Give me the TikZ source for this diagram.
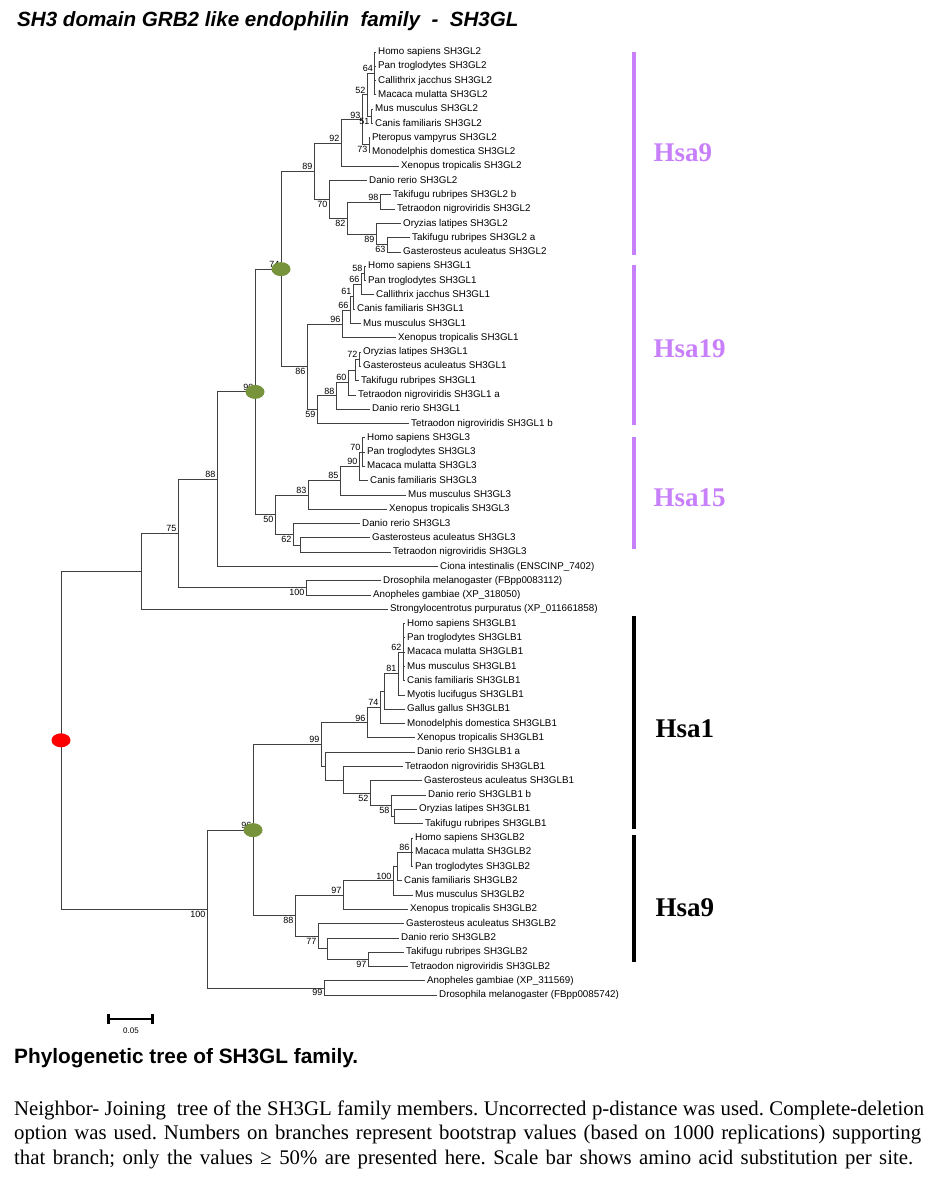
\documentclass[tikz,border=0pt]{standalone}
\usepackage{fontspec}
\setmainfont{Liberation Serif}
\setsansfont{Liberation Sans}
\usetikzlibrary{shapes.geometric,arrows.meta}
\definecolor{dupgreen}{RGB}{119,147,60}
\definecolor{hsaviolet}{RGB}{200,128,250}
\definecolor{branchgray}{RGB}{64,64,64}

\begin{document}
\begin{tikzpicture}[x=1pt,y=-1pt,
  leaf/.style={anchor=west,inner sep=2pt,text height=7pt,text depth=2pt,font=\sffamily\fontsize{9.8}{11}\selectfont},
  bsup/.style={anchor=south east,inner sep=1.5pt,font=\sffamily\fontsize{9}{10}\selectfont},
  bsdn/.style={bsup,anchor=north east},
  branch/.style={draw=branchgray,line width=0.9pt},
  elbow/.style={branch,to path={|- (\tikztotarget)}},
  dup/.style={ellipse,fill=dupgreen,minimum width=19pt,minimum height=14pt,inner sep=0pt},
  spec/.style={dup,fill=red},
  chrbar/.style={line width=3.5pt},
  chrlab/.style={anchor=west,font=\bfseries\fontsize{27}{30}\selectfont},
  legend/.style={anchor=west,inner sep=0pt,font=\frenchspacing\fontsize{20.8}{25}\selectfont}]

\fill[white] (0,0) rectangle (942,1184);
\useasboundingbox (0,0) rectangle (942,1184);

\node[anchor=west,inner sep=0pt,font=\sffamily\bfseries\itshape\fontsize{20.6}{24}\selectfont] (title) at (17,21) {SH3 domain GRB2 like endophilin\ \ family\ \ -\ \ SH3GL};

% SH3GL2
\node[leaf] (l0) at (376,52.0) {Homo sapiens SH3GL2};
\node[leaf] (l1) at (376,66.3) {Pan troglodytes SH3GL2};
\node[leaf] (l2) at (376,80.6) {Callithrix jacchus SH3GL2};
\node[leaf] (l3) at (376,94.9) {Macaca mulatta SH3GL2};
\node[leaf] (l4) at (373,109.2) {Mus musculus SH3GL2};
\node[leaf] (l5) at (373,123.5) {Canis familiaris SH3GL2};
\node[leaf] (l6) at (370,137.7) {Pteropus vampyrus SH3GL2};
\node[leaf] (l7) at (370,152.0) {Monodelphis domestica SH3GL2};
\node[leaf] (l8) at (399,166.3) {Xenopus tropicalis SH3GL2};
\node[leaf] (l9) at (367,180.6) {Danio rerio SH3GL2};
\node[leaf] (l10) at (391,194.9) {Takifugu rubripes SH3GL2 b};
\node[leaf] (l11) at (395,209.2) {Tetraodon nigroviridis SH3GL2};
\node[leaf] (l12) at (401,223.5) {Oryzias latipes SH3GL2};
\node[leaf] (l13) at (410,237.8) {Takifugu rubripes SH3GL2 a};
\node[leaf] (l14) at (401,252.1) {Gasterosteus aculeatus SH3GL2};
\coordinate (n64) at (374.5,73.5);
\coordinate (n51) at (371,116.3);
\coordinate (n52) at (367,94.9);
\coordinate (n73) at (369,144.9);
\coordinate (n93) at (362,119.9);
\coordinate (n92) at (341,143.1);
\coordinate (n98) at (380,202.0);
\coordinate (n63) at (387,244.9);
\coordinate (n89b) at (376,234.2);
\coordinate (n82) at (347,218.1);
\coordinate (n70) at (329,199.4);
\coordinate (n89) at (314,171.2);

% SH3GL1
\node[leaf] (l15) at (366,266.4) {Homo sapiens SH3GL1};
\node[leaf] (l16) at (366,280.6) {Pan troglodytes SH3GL1};
\node[leaf] (l17) at (374,294.9) {Callithrix jacchus SH3GL1};
\node[leaf] (l18) at (355,309.2) {Canis familiaris SH3GL1};
\node[leaf] (l19) at (361,323.5) {Mus musculus SH3GL1};
\node[leaf] (l20) at (396,337.8) {Xenopus tropicalis SH3GL1};
\node[leaf] (l21) at (361,352.1) {Oryzias latipes SH3GL1};
\node[leaf] (l22) at (361,366.4) {Gasterosteus aculeatus SH3GL1};
\node[leaf] (l23) at (359,380.7) {Takifugu rubripes SH3GL1};
\node[leaf] (l24) at (356,395.0) {Tetraodon nigroviridis SH3GL1 a};
\node[leaf] (l25) at (370,409.3) {Danio rerio SH3GL1};
\node[leaf] (l26) at (409,423.5) {Tetraodon nigroviridis SH3GL1 b};
\coordinate (n58) at (364,273.5);
\coordinate (n66a) at (361,284.1);
\coordinate (n61) at (353,296.7);
\coordinate (n66b) at (350,310.1);
\coordinate (n96) at (342,324.0);
\coordinate (n72) at (359,359.3);
\coordinate (nA) at (355,370.0);
\coordinate (n60) at (348,382.5);
\coordinate (n88) at (336,395.9);
\coordinate (n59) at (317,409.7);
\coordinate (n86) at (307,366.9);
\coordinate (n74) at (281,269.1);

% SH3GL3 and outgroups
\node[leaf] (l27) at (365,437.8) {Homo sapiens SH3GL3};
\node[leaf] (l28) at (365,452.1) {Pan troglodytes SH3GL3};
\node[leaf] (l29) at (365,466.4) {Macaca mulatta SH3GL3};
\node[leaf] (l30) at (368,480.7) {Canis familiaris SH3GL3};
\node[leaf] (l31) at (406,495.0) {Mus musculus SH3GL3};
\node[leaf] (l32) at (387,509.3) {Xenopus tropicalis SH3GL3};
\node[leaf] (l33) at (360,523.6) {Danio rerio SH3GL3};
\node[leaf] (l34) at (370,537.9) {Gasterosteus aculeatus SH3GL3};
\node[leaf] (l35) at (391,552.2) {Tetraodon nigroviridis SH3GL3};
\node[leaf] (l36) at (438,566.5) {Ciona intestinalis (ENSCINP\_7402)};
\node[leaf] (l37) at (381,580.7) {Drosophila melanogaster (FBpp0083112)};
\node[leaf] (l38) at (371,595.0) {Anopheles gambiae (XP\_318050)};
\node[leaf] (l39) at (388,609.3) {Strongylocentrotus purpuratus (XP\_011661858)};
\coordinate (n70c) at (362,452.1);
\coordinate (n90c) at (359,466.4);
\coordinate (n85) at (340,480.7);
\coordinate (n83) at (308,495.0);
\coordinate (nB) at (300,545.1);
\coordinate (n62c) at (293,534.4);
\coordinate (n50) at (275,514.7);
\coordinate (n90) at (255,391.9);
\coordinate (n88u) at (217,479.2);
\coordinate (n100a) at (306,587.9);
\coordinate (n75) at (178,533.6);
\coordinate (nT) at (141,571.5);

% SH3GLB1
\node[leaf] (l40) at (405,623.6) {Homo sapiens SH3GLB1};
\node[leaf] (l41) at (405,637.9) {Pan troglodytes SH3GLB1};
\node[leaf] (l42) at (405,652.2) {Macaca mulatta SH3GLB1};
\node[leaf] (l43) at (405,666.5) {Mus musculus SH3GLB1};
\node[leaf] (l44) at (405,680.8) {Canis familiaris SH3GLB1};
\node[leaf] (l45) at (405,695.1) {Myotis lucifugus SH3GLB1};
\node[leaf] (l46) at (405,709.4) {Gallus gallus SH3GLB1};
\node[leaf] (l47) at (405,723.6) {Monodelphis domestica SH3GLB1};
\node[leaf] (l48) at (415,737.9) {Xenopus tropicalis SH3GLB1};
\node[leaf] (l49) at (415,752.2) {Danio rerio SH3GLB1 a};
\node[leaf] (l50) at (403,766.5) {Tetraodon nigroviridis SH3GLB1};
\node[leaf] (l51) at (422,780.8) {Gasterosteus aculeatus SH3GLB1};
\node[leaf] (l52) at (426,795.1) {Danio rerio SH3GLB1 b};
\node[leaf] (l53) at (417,809.4) {Oryzias latipes SH3GLB1};
\node[leaf] (l54) at (423,823.7) {Takifugu rubripes SH3GLB1};
\coordinate (n62b) at (403,652.2);
\coordinate (n81) at (398,673.7);
\coordinate (nD) at (384,691.6);
\coordinate (n74b) at (380,707.6);
\coordinate (n96b) at (367,722.8);
\coordinate (nE) at (394,816.6);
\coordinate (n58b) at (391,805.9);
\coordinate (n52b) at (370,793.4);
\coordinate (nF) at (343,780.0);
\coordinate (nG) at (325,766.1);
\coordinate (n99) at (321,744.5);

% SH3GLB2
\node[leaf] (l55) at (413,838.0) {Homo sapiens SH3GLB2};
\node[leaf] (l56) at (413,852.3) {Macaca mulatta SH3GLB2};
\node[leaf] (l57) at (413,866.5) {Pan troglodytes SH3GLB2};
\node[leaf] (l58) at (402,880.8) {Canis familiaris SH3GLB2};
\node[leaf] (l59) at (413,895.1) {Mus musculus SH3GLB2};
\node[leaf] (l60) at (408,909.4) {Xenopus tropicalis SH3GLB2};
\node[leaf] (l61) at (404,923.7) {Gasterosteus aculeatus SH3GLB2};
\node[leaf] (l62) at (399,938.0) {Danio rerio SH3GLB2};
\node[leaf] (l63) at (404,952.3) {Takifugu rubripes SH3GLB2};
\node[leaf] (l64) at (408,966.6) {Tetraodon nigroviridis SH3GLB2};
\node[leaf] (l65) at (425,980.9) {Anopheles gambiae (XP\_311569)};
\node[leaf] (l66) at (437,995.1) {Drosophila melanogaster (FBpp0085742)};
\coordinate (n86b) at (411,852.3);
\coordinate (nH) at (397,866.5);
\coordinate (nI) at (393,880.8);
\coordinate (n97) at (343,895.1);
\coordinate (n97b) at (368,959.5);
\coordinate (nJ) at (327,948.7);
\coordinate (n77) at (318,936.2);
\coordinate (n88b) at (295,915.7);
\coordinate (n96g) at (253,830.1);
\coordinate (n99b) at (324,988.0);
\coordinate (n100c) at (207,909.1);
\coordinate (root) at (61,740.3);

\path (n64) edge[elbow] (l0) edge[elbow] (l1) edge[elbow] (l2) edge[elbow] (l3)
  (n51) edge[elbow] (l4) edge[elbow] (l5)
  (n52) edge[elbow] (n64) edge[elbow] (n51)
  (n73) edge[elbow] (l6) edge[elbow] (l7)
  (n93) edge[elbow] (n52) edge[elbow] (n73)
  (n92) edge[elbow] (n93) edge[elbow] (l8)
  (n98) edge[elbow] (l10) edge[elbow] (l11)
  (n63) edge[elbow] (l13) edge[elbow] (l14)
  (n89b) edge[elbow] (l12) edge[elbow] (n63)
  (n82) edge[elbow] (n98) edge[elbow] (n89b)
  (n70) edge[elbow] (l9) edge[elbow] (n82)
  (n89) edge[elbow] (n92) edge[elbow] (n70);
\path (n58) edge[elbow] (l15) edge[elbow] (l16)
  (n66a) edge[elbow] (n58) edge[elbow] (l17)
  (n61) edge[elbow] (n66a) edge[elbow] (l18)
  (n66b) edge[elbow] (n61) edge[elbow] (l19)
  (n96) edge[elbow] (n66b) edge[elbow] (l20)
  (n72) edge[elbow] (l21) edge[elbow] (l22)
  (nA) edge[elbow] (n72) edge[elbow] (l23)
  (n60) edge[elbow] (nA) edge[elbow] (l24)
  (n88) edge[elbow] (n60) edge[elbow] (l25)
  (n59) edge[elbow] (n88) edge[elbow] (l26)
  (n86) edge[elbow] (n96) edge[elbow] (n59)
  (n74) edge[elbow] (n89) edge[elbow] (n86);
\path (n70c) edge[elbow] (l27) edge[elbow] (l28) edge[elbow] (l29)
  (n90c) edge[elbow] (n70c) edge[elbow] (l30)
  (n85) edge[elbow] (n90c) edge[elbow] (l31)
  (n83) edge[elbow] (n85) edge[elbow] (l32)
  (nB) edge[elbow] (l34) edge[elbow] (l35)
  (n62c) edge[elbow] (l33) edge[elbow] (nB)
  (n50) edge[elbow] (n83) edge[elbow] (n62c)
  (n90) edge[elbow] (n74) edge[elbow] (n50)
  (n88u) edge[elbow] (n90) edge[elbow] (l36)
  (n100a) edge[elbow] (l37) edge[elbow] (l38)
  (n75) edge[elbow] (n88u) edge[elbow] (n100a)
  (nT) edge[elbow] (n75) edge[elbow] (l39);
\path (n62b) edge[elbow] (l40) edge[elbow] (l41) edge[elbow] (l42) edge[elbow] (l43) edge[elbow] (l44)
  (n81) edge[elbow] (n62b) edge[elbow] (l45)
  (nD) edge[elbow] (n81) edge[elbow] (l46)
  (n74b) edge[elbow] (nD) edge[elbow] (l47)
  (n96b) edge[elbow] (n74b) edge[elbow] (l48)
  (nE) edge[elbow] (l53) edge[elbow] (l54)
  (n58b) edge[elbow] (l52) edge[elbow] (nE)
  (n52b) edge[elbow] (l51) edge[elbow] (n58b)
  (nF) edge[elbow] (l50) edge[elbow] (n52b)
  (nG) edge[elbow] (l49) edge[elbow] (nF)
  (n99) edge[elbow] (n96b) edge[elbow] (nG);
\path (n86b) edge[elbow] (l55) edge[elbow] (l56) edge[elbow] (l57)
  (nH) edge[elbow] (n86b) edge[elbow] (l58)
  (nI) edge[elbow] (nH) edge[elbow] (l59)
  (n97) edge[elbow] (nI) edge[elbow] (l60)
  (n97b) edge[elbow] (l63) edge[elbow] (l64)
  (nJ) edge[elbow] (l62) edge[elbow] (n97b)
  (n77) edge[elbow] (l61) edge[elbow] (nJ)
  (n88b) edge[elbow] (n97) edge[elbow] (n77)
  (n96g) edge[elbow] (n99) edge[elbow] (n88b)
  (n99b) edge[elbow] (l65) edge[elbow] (l66)
  (n100c) edge[elbow] (n96g) edge[elbow] (n99b)
  (root) edge[elbow] (nT) edge[elbow] (n100c);

\node[bsup] (b64) at (n64) {64};
\node[bsdn] (b51) at (n51) {51};
\node[bsup] (b52) at (n52) {52};
\node[bsdn] (b73) at (n73) {73};
\node[bsup] (b93) at (n93) {93};
\node[bsup] (b92) at (n92) {92};
\node[bsup] (b98) at (n98) {98};
\node[bsdn] (b63) at (n63) {63};
\node[bsdn] (b89b) at (n89b) {89};
\node[bsdn] (b82) at (n82) {82};
\node[bsdn] (b70) at (n70) {70};
\node[bsup] (b89) at (n89) {89};
\node[bsup] (b58) at (n58) {58};
\node[bsup] (b66a) at (n66a) {66};
\node[bsup] (b61) at (n61) {61};
\node[bsup] (b66b) at (n66b) {66};
\node[bsup] (b96) at (n96) {96};
\node[bsup] (b72) at (n72) {72};
\node[bsup] (b60) at (n60) {60};
\node[bsup] (b88) at (n88) {88};
\node[bsdn] (b59) at (n59) {59};
\node[bsdn] (b86) at (n86) {86};
\node[bsup] (b74) at (n74) {74};
\node[bsup] (b70c) at (n70c) {70};
\node[bsup] (b90c) at (n90c) {90};
\node[bsup] (b85) at (n85) {85};
\node[bsup] (b83) at (n83) {83};
\node[bsdn] (b62c) at (n62c) {62};
\node[bsdn] (b50) at (n50) {50};
\node[bsup] (b90) at (n90) {90};
\node[bsup] (b88u) at (n88u) {88};
\node[bsdn] (b100a) at (n100a) {100};
\node[bsup] (b75) at (n75) {75};
\node[bsup] (b62b) at (n62b) {62};
\node[bsup] (b81) at (n81) {81};
\node[bsup] (b74b) at (n74b) {74};
\node[bsup] (b96b) at (n96b) {96};
\node[bsdn] (b58b) at (n58b) {58};
\node[bsdn] (b52b) at (n52b) {52};
\node[bsup] (b99) at (n99) {99};
\node[bsup] (b86b) at (n86b) {86};
\node[bsup] (bI) at (nI) {100};
\node[bsup] (b97) at (n97) {97};
\node[bsdn] (b97b) at (n97b) {97};
\node[bsdn] (b77) at (n77) {77};
\node[bsdn] (b88b) at (n88b) {88};
\node[bsup] (b96g) at (n96g) {96};
\node[bsdn] (b99b) at (n99b) {99};
\node[bsdn] (b100c) at (n100c) {100};

\node[dup] (d74) at (n74) {};
\node[dup] (d90) at (n90) {};
\node[dup] (d96) at (n96g) {};
\node[spec] (droot) at (root) {};

\draw[chrbar,hsaviolet] (634,52) -- (634,255);
\draw[chrbar,hsaviolet] (634,265) -- (634,425);
\draw[chrbar,hsaviolet] (634,437) -- (634,549);
\draw[chrbar,black] (634,616) -- (634,829);
\draw[chrbar,black] (634,835) -- (634,962);
\node[chrlab,text=hsaviolet] (hsa9a) at (650,153) {Hsa9};
\node[chrlab,text=hsaviolet] (hsa19) at (650,349) {Hsa19};
\node[chrlab,text=hsaviolet] (hsa15) at (650,498) {Hsa15};
\node[chrlab] (hsa1) at (652,729) {Hsa1};
\node[chrlab] (hsa9b) at (652,908) {Hsa9};

\coordinate (sbl) at (107,1019);
\coordinate (sbr) at (154,1019);
\draw[line width=2.8pt,{Bar[width=10pt]}-{Bar[width=10pt]}] (sbl) -- (sbr);
\node[font=\sffamily\fontsize{8}{9}\selectfont] (sblab) at (131,1031) {0.05};

\node[anchor=west,inner sep=0pt,font=\sffamily\bfseries\fontsize{20.8}{24}\selectfont] (cap) at (14,1058) {Phylogenetic tree of SH3GL family.};
\node[legend] (txt1) at (14,1110) {\makebox[910pt][s]{Neighbor- Joining\ \ tree of the SH3GL family members. Uncorrected p-distance was used. Complete-deletion}};
\node[legend] (txt2) at (14,1135) {\makebox[907pt][s]{option was used. Numbers on branches represent bootstrap values (based on 1000 replications) supporting}};
\node[legend] (txt3) at (14,1160) {\makebox[899pt][s]{that branch; only the values ≥ 50\% are presented here. Scale bar shows amino acid substitution per site.}};
\end{tikzpicture}
\end{document}
